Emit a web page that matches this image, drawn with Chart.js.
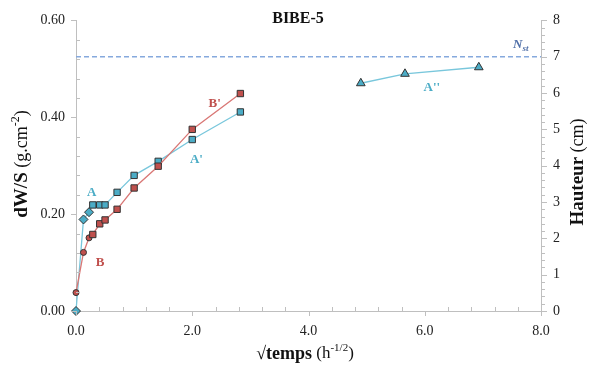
<!DOCTYPE html>
<html>
<head>
<meta charset="utf-8">
<script src="https://cdn.jsdelivr.net/npm/chart.js@4/dist/chart.umd.min.js"></script>
<style>
html,body{margin:0;padding:0;background:#fff;}
#wrap{width:589px;height:372px;}
</style>
</head>
<body>
<div id="wrap"><canvas id="c" width="589" height="372"></canvas></div>
<script>
// √temps (h^-1/2)
const sqrtTime = [0, 0.129, 0.224, 0.289, 0.408, 0.5, 0.707, 1.0, 1.414, 2.0, 2.828];
// Series A / A' (dW/S, g.cm-2)
const seriesA = [0, 0.189, 0.204, 0.219, 0.219, 0.219, 0.245, 0.280, 0.309, 0.354, 0.411];
// Series B / B' (dW/S, g.cm-2)
const seriesB = [0.038, 0.121, 0.151, 0.158, 0.180, 0.188, 0.210, 0.254, 0.299, 0.375, 0.449];
// Series A'' (Hauteur, cm)
const sqrtTimeHeight = [4.90, 5.66, 6.93];
const heightA2 = [6.27, 6.53, 6.71];
// Reference level N_st (Hauteur, cm)
const nstLevel = 7;
const nstRange = [0, 8];
// Point markers per point
const markersA = ['rectRot','rectRot','rectRot','rect','rect','rect','rect','rect','rect','rect','rect'];
const markersB = ['circle','circle','circle','rect','rect','rect','rect','rect','rect','rect','rect'];
// Tick settings
const xTicks = {min: 0, max: 8, step: 2, minor: 0.4};
const yLeftTicks = {min: 0, max: 0.6, step: 0.2, minor: 0.04};
const yRightTicks = {min: 0, max: 8, step: 1, minor: 0.2};
// Annotation labels: [text, sub, x, y, axis, color, italic]
const annotations = [
  ['A', '', 0.19, 0.245, 'y', '#4BACC6', false],
  ['B', '', 0.34, 0.100, 'y', '#C0504D', false],
  ["A'", '', 1.96, 0.312, 'y', '#4BACC6', false],
  ["B'", '', 2.28, 0.428, 'y', '#C0504D', false],
  ["A''", '', 5.98, 6.15, 'y2', '#4BACC6', false],
  ['N', 'st', 7.52, 7.33, 'y2', '#4F6FA8', true]
];

const BLUE = '#4BACC6', BLUE_LINE = '#79C7DC';
const RED = '#C0504D', RED_LINE = '#D97775';
const AXIS = '#BFBFBF';
const SERIF = '"Liberation Serif", "Times New Roman", serif';

const ptsA = sqrtTime.map((x, i) => ({x, y: seriesA[i]}));
const ptsB = sqrtTime.map((x, i) => ({x, y: seriesB[i]}));
const ptsA2 = sqrtTimeHeight.map((x, i) => ({x, y: heightA2[i]}));
const ptsN = nstRange.map(x => ({x, y: nstLevel}));

const decor = {
  id: 'decor',
  afterDraw(chart) {
    const ctx = chart.ctx;
    const {x, y, y2} = chart.scales;
    const area = chart.chartArea;
    ctx.save();
    ctx.strokeStyle = AXIS;
    ctx.lineWidth = 1;
    // x ticks
    for (let v = xTicks.min; v <= xTicks.max + 1e-9; v += xTicks.minor) {
      const px = Math.round(x.getPixelForValue(v)) + 0.5;
      const major = Math.abs(v / xTicks.step - Math.round(v / xTicks.step)) < 1e-6;
      ctx.beginPath();
      if (major) { ctx.moveTo(px, area.bottom); ctx.lineTo(px, area.bottom + 5); }
      else { ctx.moveTo(px, area.bottom); ctx.lineTo(px, area.bottom - 4); }
      ctx.stroke();
    }
    // left ticks
    for (let v = yLeftTicks.min; v <= yLeftTicks.max + 1e-9; v += yLeftTicks.minor) {
      const py = Math.round(y.getPixelForValue(v)) + 0.5;
      const major = Math.abs(v / yLeftTicks.step - Math.round(v / yLeftTicks.step)) < 1e-6;
      ctx.beginPath();
      if (major) { ctx.moveTo(area.left - 5, py); ctx.lineTo(area.left, py); }
      else { ctx.moveTo(area.left, py); ctx.lineTo(area.left + 4, py); }
      ctx.stroke();
    }
    // right ticks
    for (let v = yRightTicks.min; v <= yRightTicks.max + 1e-9; v += yRightTicks.minor) {
      const py = Math.round(y2.getPixelForValue(v)) + 0.5;
      const major = Math.abs(v / yRightTicks.step - Math.round(v / yRightTicks.step)) < 1e-6;
      ctx.beginPath();
      ctx.moveTo(area.right, py); ctx.lineTo(area.right + (major ? 6 : 4), py);
      ctx.stroke();
    }
    // title
    ctx.fillStyle = '#111';
    ctx.font = 'bold 16px ' + SERIF;
    ctx.textAlign = 'center';
    ctx.textBaseline = 'middle';
    ctx.fillText('BIBE-5', 298, 19);

    function drawRuns(runs, cx, cy, rot) {
      ctx.save();
      ctx.translate(cx, cy);
      ctx.rotate(rot);
      let total = 0;
      runs.forEach(r => { ctx.font = r[1]; total += ctx.measureText(r[0]).width; });
      let px = -total / 2;
      ctx.textAlign = 'left';
      ctx.textBaseline = 'middle';
      ctx.fillStyle = '#111';
      runs.forEach(r => { ctx.font = r[1]; ctx.fillText(r[0], px, r[2]); px += ctx.measureText(r[0]).width; });
      ctx.restore();
    }
    drawRuns([
      ['dW/S', 'bold 19px ' + SERIF, 0],
      [' (g.cm', '18px ' + SERIF, 0],
      ['-2', '12px ' + SERIF, -6],
      [')', '18px ' + SERIF, 0]
    ], 22, 164, -Math.PI / 2);
    drawRuns([
      ['Hauteur', 'bold 19px ' + SERIF, 0],
      [' (cm)', '18px ' + SERIF, 0]
    ], 578, 172, -Math.PI / 2);
    drawRuns([
      ['√temps', 'bold 18px ' + SERIF, 0],
      [' (h', '17px ' + SERIF, 0],
      ['-1/2', '11px ' + SERIF, -6],
      [')', '17px ' + SERIF, 0]
    ], 305, 354, 0);

    annotations.forEach(a => {
      const px = x.getPixelForValue(a[2]);
      const py = chart.scales[a[4]].getPixelForValue(a[3]);
      ctx.fillStyle = a[5];
      ctx.font = (a[6] ? 'italic ' : '') + 'bold 13px ' + SERIF;
      ctx.textAlign = 'left';
      ctx.textBaseline = 'middle';
      const w = ctx.measureText(a[0]).width;
      ctx.fillText(a[0], px, py);
      if (a[1]) {
        ctx.font = (a[6] ? 'italic ' : '') + 'bold 9px ' + SERIF;
        ctx.fillText(a[1], px + w, py + 4);
      }
    });
    ctx.restore();
  }
};

new Chart(document.getElementById('c'), {
  type: 'scatter',
  data: {
    datasets: [
      {
        label: 'Nst', data: ptsN, yAxisID: 'y2', showLine: true,
        borderColor: '#86A9DD', borderWidth: 1.5, borderDash: [5, 3], pointRadius: 0
      },
      {
        label: 'B', data: ptsB, yAxisID: 'y', showLine: true, clip: false,
        borderColor: RED_LINE, borderWidth: 1.3,
        backgroundColor: RED, pointBorderColor: '#333', pointBorderWidth: 1,
        pointStyle: markersB, pointRadius: markersB.map(m => m === 'circle' ? 3 : 4.5)
      },
      {
        label: 'A', data: ptsA, yAxisID: 'y', showLine: true, clip: false,
        borderColor: BLUE_LINE, borderWidth: 1.3,
        backgroundColor: BLUE, pointBorderColor: '#333', pointBorderWidth: 1,
        pointStyle: markersA, pointRadius: 4.5
      },
      {
        label: "A''", data: ptsA2, yAxisID: 'y2', showLine: true, clip: false,
        borderColor: BLUE_LINE, borderWidth: 1.3,
        backgroundColor: BLUE, pointBorderColor: '#333', pointBorderWidth: 1,
        pointStyle: 'triangle', pointRadius: 5
      }
    ]
  },
  options: {
    responsive: false,
    animation: false,
    events: [],
    layout: {padding: {top: 17, left: 0, right: 0, bottom: 0}},
    plugins: {legend: {display: false}, tooltip: {enabled: false}, title: {display: false}},
    scales: {
      x: {
        type: 'linear', min: xTicks.min, max: xTicks.max,
        afterFit: s => { s.height = 61; },
        grid: {display: false, drawTicks: false},
        border: {display: true, color: AXIS, width: 1},
        ticks: {stepSize: xTicks.step, padding: 12, color: '#222',
          font: {family: SERIF, size: 14}, callback: v => v.toFixed(1)}
      },
      y: {
        type: 'linear', position: 'left', min: yLeftTicks.min, max: yLeftTicks.max,
        afterFit: s => { s.width = 76; },
        grid: {display: false, drawTicks: false},
        border: {display: true, color: AXIS, width: 1},
        ticks: {stepSize: yLeftTicks.step, padding: 11, color: '#222',
          font: {family: SERIF, size: 14}, callback: v => v.toFixed(2)}
      },
      y2: {
        type: 'linear', position: 'right', min: yRightTicks.min, max: yRightTicks.max,
        afterFit: s => { s.width = 48; },
        grid: {display: false, drawTicks: false},
        border: {display: true, color: AXIS, width: 1},
        ticks: {stepSize: yRightTicks.step, padding: 12, color: '#222',
          font: {family: SERIF, size: 14}}
      }
    }
  },
  plugins: [decor]
});
</script>
</body>
</html>
